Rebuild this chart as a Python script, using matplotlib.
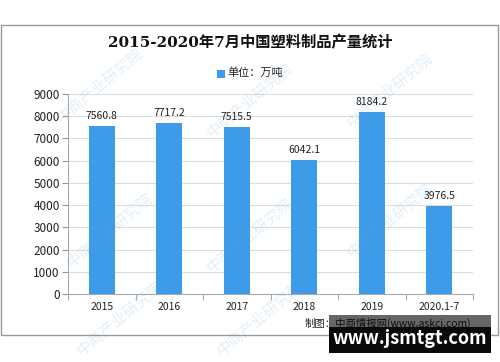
import matplotlib
matplotlib.use("Agg")
import matplotlib.pyplot as plt
from matplotlib.patches import Rectangle

plt.rcParams['font.family'] = ['Noto Sans CJK SC', 'DejaVu Sans']

categories = ["2015", "2016", "2017", "2018", "2019", "2020.1-7"]
values = [7560.8, 7717.2, 7515.5, 6042.1, 8184.2, 3976.5]
value_labels = ["7560.8", "7717.2", "7515.5", "6042.1", "8184.2", "3976.5"]
yticks = [0, 1000, 2000, 3000, 4000, 5000, 6000, 7000, 8000, 9000]
title = "2015-2020年7月中国塑料制品产量统计"
legend_label = "单位：万吨"
source = "制图：中商情报网(www.askci.com)"
overlay = "www.jsmtgt.com"

W, H = 500, 362
fig = plt.figure(figsize=(W/100, H/100), dpi=100)
fig.patch.set_facecolor('white')

# outer frame
fig.patches.append(Rectangle((1/W, 1-335/H), 497/W, 310/H, transform=fig.transFigure,
                             fill=False, edgecolor='#999999', linewidth=1))

ax = fig.add_axes([68/W, 1-294/H, (473-68)/W, 200/H])
bar_color = '#3d9be9'
x = range(len(categories))
bars = ax.bar(x, values, width=0.38, color=bar_color, zorder=3)
for i, (v, lab) in enumerate(zip(values, value_labels)):
    ax.text(i, v + 220, lab, ha='center', va='bottom', fontsize=7.5, color='#222222')

ax.set_xlim(-0.5, len(categories) - 0.5)
ax.set_ylim(0, 9000)
ax.set_yticks(yticks)
ax.set_yticklabels([str(t) for t in yticks], fontsize=8.5, color='#222222')
ax.set_xticks(list(x))
ax.set_xticklabels(categories, fontsize=7.5, color='#222222')
ax.set_xticks([i + 0.5 for i in range(-1, len(categories))], minor=True)
ax.tick_params(axis='x', which='major', length=0, pad=6)
ax.tick_params(axis='x', which='minor', length=4, color='#999999')
ax.tick_params(axis='y', length=4, color='#999999', pad=2)
ax.grid(axis='y', color='#dddddd', linewidth=0.8, zorder=0)
for s in ['top', 'right']:
    ax.spines[s].set_visible(False)
ax.spines['left'].set_color('#aaaaaa')
ax.spines['bottom'].set_color('#aaaaaa')
ax.set_facecolor('none')

fig.text(0.5, 1-43/H, title, ha='center', va='center', fontsize=11, fontweight='bold',
         family=['DejaVu Serif', 'Noto Sans CJK SC'], color='#111111')

# legend
fig.patches.append(Rectangle((217/W, 1-78/H), 8/W, 8/H, transform=fig.transFigure,
                             facecolor=bar_color, edgecolor='none'))
fig.text(227/W, 1-73/H, legend_label, ha='left', va='center', fontsize=8, color='#222222')

# watermarks
for (wx, wy) in [(100, 85), (250, 100), (390, 90), (110, 230), (250, 235), (390, 220), (120, 318), (260, 318)]:
    fig.text(wx/W, 1-wy/H, "中商产业研究院", fontsize=11, color='#5aa8e0', alpha=0.18,
             rotation=40, ha='center', va='center')

fig.text(305/W, 1-323/H, source, ha='left', va='center', fontsize=7.5, color='#222222')

# overlay box
fig.patches.append(Rectangle((329/W, 1-353/H), 162/W, 38/H, transform=fig.transFigure,
                             facecolor='black', edgecolor='none', alpha=0.6, zorder=5))
fig.patches.append(Rectangle((329/W, 1-353/H), 162/W, 26/H, transform=fig.transFigure,
                             facecolor='black', edgecolor='none', alpha=0.9, zorder=5))
fig.text(410/W, 1-339/H, overlay, ha='center', va='center', fontsize=13, fontweight='bold',
         color='white', zorder=6)

fig.savefig('out.png', dpi=100)
